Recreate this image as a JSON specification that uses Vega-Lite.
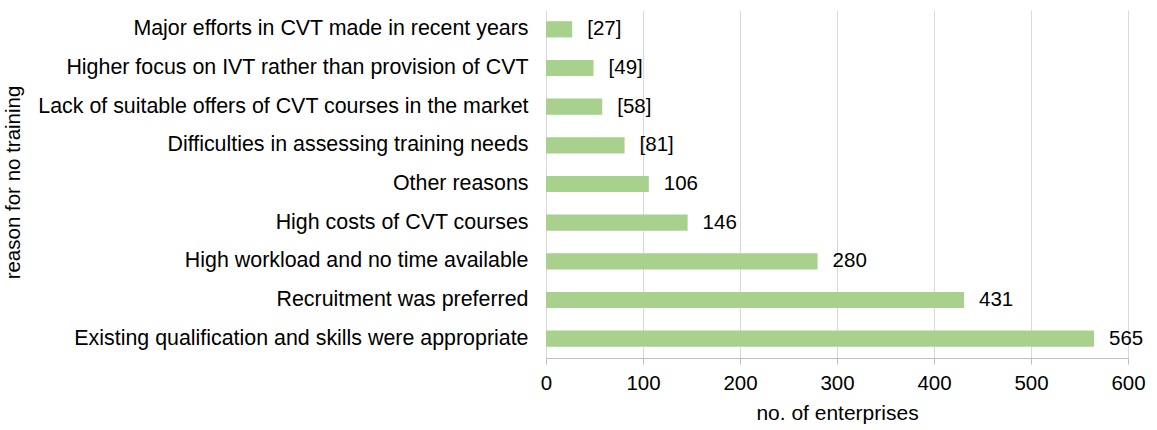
{
  "$schema": "https://vega.github.io/schema/vega-lite/v6.json",
  "width": 582,
  "height": 348,
  "autosize": {"type": "none"},
  "padding": {"left": 546, "top": 10, "right": 29, "bottom": 72},
  "background": "white",
  "config": {"view": {"stroke": null}, "font": "Liberation Sans"},
  "data": {"values": [
    {"reason": "Major efforts in CVT made in recent years", "n": 27, "label": "[27]"},
    {"reason": "Higher focus on IVT rather than provision of CVT", "n": 49, "label": "[49]"},
    {"reason": "Lack of suitable offers of CVT courses in the market", "n": 58, "label": "[58]"},
    {"reason": "Difficulties in assessing training needs", "n": 81, "label": "[81]"},
    {"reason": "Other reasons", "n": 106, "label": "106"},
    {"reason": "High costs of CVT courses", "n": 146, "label": "146"},
    {"reason": "High workload and no time available", "n": 280, "label": "280"},
    {"reason": "Recruitment was preferred", "n": 431, "label": "431"},
    {"reason": "Existing qualification and skills were appropriate", "n": 565, "label": "565"}
  ]},
  "encoding": {
    "y": {"field": "reason", "type": "nominal", "sort": null,
      "scale": {"paddingInner": 0.58, "paddingOuter": 0.29},
      "axis": {"title": "reason for no training", "titleFontSize": 20.5, "titleFontWeight": "normal", "titleColor": "#000",
        "titleX": -533, "titleY": 172, "titleAlign": "center", "titleBaseline": "middle", "titleAngle": -90,
        "labelFontSize": 21.4, "labelColor": "#000", "labelPadding": 18, "ticks": false, "domain": false, "labelLimit": 700}},
    "x": {"field": "n", "type": "quantitative",
      "scale": {"domain": [0, 600], "nice": false},
      "axis": {"title": "no. of enterprises", "titleFontSize": 21, "titleFontWeight": "normal", "titleColor": "#000", "titlePadding": 9,
        "labelFontSize": 20.5, "labelColor": "#000", "labelPadding": 9, "labelOverlap": false, "labelFlush": false, "values": [0,100,200,300,400,500,600],
        "gridColor": "#d9d9d9", "domainColor": "#bfbfbf", "tickColor": "#bfbfbf", "tickSize": 6}}
  },
  "layer": [
    {"mark": {"type": "bar", "color": "#a9d18e"}},
    {"mark": {"type": "text", "align": "left", "dx": 15, "fontSize": 20.5, "color": "#000"},
     "encoding": {"text": {"field": "label"}}}
  ]
}
